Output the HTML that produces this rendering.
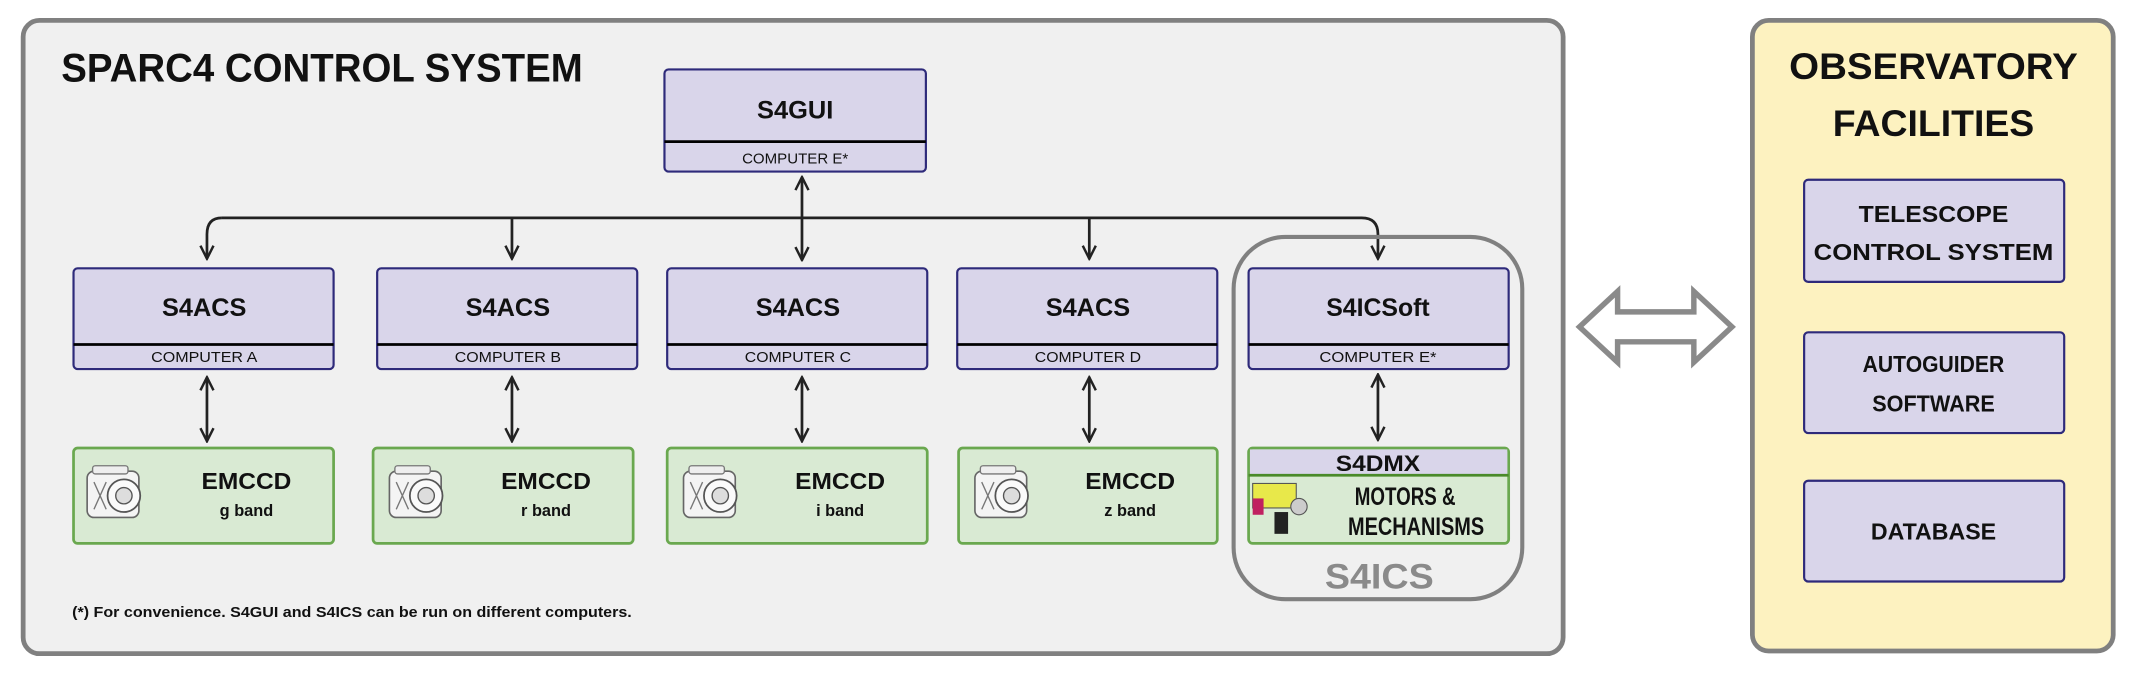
<!DOCTYPE html>
<html><head><meta charset="utf-8"><style>
html,body{margin:0;padding:0;background:#fff}
svg{display:block}
text{font-family:"Liberation Sans",sans-serif;font-weight:bold;fill:#111}
</style></head><body>
<svg width="2135" height="685" viewBox="0 0 1568 503" preserveAspectRatio="none">
<defs>
<marker id="ah" viewBox="0 0 10 10" refX="9" refY="5" markerWidth="12" markerHeight="12" orient="auto-start-reverse" markerUnits="userSpaceOnUse">
<path d="M1,1 L9,5 L1,9" fill="none" stroke="#222" stroke-width="1.5"/>
</marker>
<g id="cam">
<rect x="0" y="0" width="38" height="34" rx="5" fill="#f4f4f4" stroke="#666" stroke-width="1.2"/>
<rect x="4" y="-4" width="26" height="6" rx="2" fill="#eee" stroke="#777" stroke-width="1"/>
<circle cx="27" cy="18" r="12" fill="#fafafa" stroke="#555" stroke-width="1.3"/>
<circle cx="27" cy="18" r="6" fill="#ddd" stroke="#555" stroke-width="1"/>
<path d="M5,8 L14,28 M14,8 L5,28" stroke="#777" stroke-width="1"/>
</g>
</defs>

<rect x="17" y="15" width="1131" height="465" rx="12" fill="#f0f0f0" stroke="#808080" stroke-width="3.5"/>
<text x="45" y="60" font-size="29" textLength="383" lengthAdjust="spacingAndGlyphs">SPARC4 CONTROL SYSTEM</text>

<rect x="488" y="51" width="192" height="75" rx="3" fill="#d9d5ea" stroke="#2e2a7a" stroke-width="1.6"/>
<line x1="488" y1="104" x2="680" y2="104" stroke="#000" stroke-width="2"/>
<text x="584" y="87" font-size="18" text-anchor="middle" textLength="56" lengthAdjust="spacingAndGlyphs">S4GUI</text>
<text x="584" y="120" font-size="10.5" text-anchor="middle" fill="#222" textLength="78" lengthAdjust="spacingAndGlyphs" style="font-weight:normal">COMPUTER  E*</text>

<path d="M163,160 L1000,160 Q1012,160 1012,172 L1012,190" fill="none" stroke="#222" stroke-width="2" marker-end="url(#ah)"/>
<path d="M163,160 Q152,160 152,172 L152,190" fill="none" stroke="#222" stroke-width="2" marker-end="url(#ah)"/>
<line x1="376" y1="160" x2="376" y2="190" stroke="#222" stroke-width="2" marker-end="url(#ah)"/>
<line x1="800" y1="160" x2="800" y2="190" stroke="#222" stroke-width="2" marker-end="url(#ah)"/>
<line x1="589" y1="130" x2="589" y2="191" stroke="#222" stroke-width="2" marker-start="url(#ah)" marker-end="url(#ah)"/>

<rect x="906" y="174" width="212" height="266" rx="38" fill="none" stroke="#808080" stroke-width="3"/>
<text x="1013" y="432" font-size="26" text-anchor="middle" style="fill:#8a8a8a" textLength="80" lengthAdjust="spacingAndGlyphs">S4ICS</text>

<g>
<rect x="54" y="197" width="191" height="74" rx="3" fill="#d9d5ea" stroke="#2e2a7a" stroke-width="1.6"/>
<line x1="54" y1="253" x2="245" y2="253" stroke="#000" stroke-width="2"/>
<text x="150" y="232" font-size="18" text-anchor="middle" textLength="62" lengthAdjust="spacingAndGlyphs">S4ACS</text>
<text x="150" y="266" font-size="10.5" text-anchor="middle" textLength="78" lengthAdjust="spacingAndGlyphs" style="font-weight:normal">COMPUTER  A</text>

<rect x="277" y="197" width="191" height="74" rx="3" fill="#d9d5ea" stroke="#2e2a7a" stroke-width="1.6"/>
<line x1="277" y1="253" x2="468" y2="253" stroke="#000" stroke-width="2"/>
<text x="373" y="232" font-size="18" text-anchor="middle" textLength="62" lengthAdjust="spacingAndGlyphs">S4ACS</text>
<text x="373" y="266" font-size="10.5" text-anchor="middle" textLength="78" lengthAdjust="spacingAndGlyphs" style="font-weight:normal">COMPUTER  B</text>

<rect x="490" y="197" width="191" height="74" rx="3" fill="#d9d5ea" stroke="#2e2a7a" stroke-width="1.6"/>
<line x1="490" y1="253" x2="681" y2="253" stroke="#000" stroke-width="2"/>
<text x="586" y="232" font-size="18" text-anchor="middle" textLength="62" lengthAdjust="spacingAndGlyphs">S4ACS</text>
<text x="586" y="266" font-size="10.5" text-anchor="middle" textLength="78" lengthAdjust="spacingAndGlyphs" style="font-weight:normal">COMPUTER  C</text>

<rect x="703" y="197" width="191" height="74" rx="3" fill="#d9d5ea" stroke="#2e2a7a" stroke-width="1.6"/>
<line x1="703" y1="253" x2="894" y2="253" stroke="#000" stroke-width="2"/>
<text x="799" y="232" font-size="18" text-anchor="middle" textLength="62" lengthAdjust="spacingAndGlyphs">S4ACS</text>
<text x="799" y="266" font-size="10.5" text-anchor="middle" textLength="78" lengthAdjust="spacingAndGlyphs" style="font-weight:normal">COMPUTER  D</text>

<rect x="917" y="197" width="191" height="74" rx="3" fill="#d9d5ea" stroke="#2e2a7a" stroke-width="1.6"/>
<line x1="917" y1="253" x2="1108" y2="253" stroke="#000" stroke-width="2"/>
<text x="1012" y="232" font-size="18" text-anchor="middle" textLength="76" lengthAdjust="spacingAndGlyphs">S4ICSoft</text>
<text x="1012" y="266" font-size="10.5" text-anchor="middle" textLength="86" lengthAdjust="spacingAndGlyphs" style="font-weight:normal">COMPUTER  E*</text>
</g>

<g stroke="#222" stroke-width="2">
<line x1="152" y1="277" x2="152" y2="324" marker-start="url(#ah)" marker-end="url(#ah)"/>
<line x1="376" y1="277" x2="376" y2="324" marker-start="url(#ah)" marker-end="url(#ah)"/>
<line x1="589" y1="277" x2="589" y2="324" marker-start="url(#ah)" marker-end="url(#ah)"/>
<line x1="800" y1="277" x2="800" y2="324" marker-start="url(#ah)" marker-end="url(#ah)"/>
<line x1="1012" y1="275" x2="1012" y2="323" marker-start="url(#ah)" marker-end="url(#ah)"/>
</g>

<g>
<rect x="54" y="329" width="191" height="70" rx="3" fill="#d9ead3" stroke="#6aa84f" stroke-width="2"/>
<use href="#cam" x="64" y="346"/>
<text x="181" y="359" font-size="17" text-anchor="middle" textLength="66" lengthAdjust="spacingAndGlyphs">EMCCD</text>
<text x="181" y="379" font-size="12" text-anchor="middle">g band</text>

<rect x="274" y="329" width="191" height="70" rx="3" fill="#d9ead3" stroke="#6aa84f" stroke-width="2"/>
<use href="#cam" x="286" y="346"/>
<text x="401" y="359" font-size="17" text-anchor="middle" textLength="66" lengthAdjust="spacingAndGlyphs">EMCCD</text>
<text x="401" y="379" font-size="12" text-anchor="middle">r band</text>

<rect x="490" y="329" width="191" height="70" rx="3" fill="#d9ead3" stroke="#6aa84f" stroke-width="2"/>
<use href="#cam" x="502" y="346"/>
<text x="617" y="359" font-size="17" text-anchor="middle" textLength="66" lengthAdjust="spacingAndGlyphs">EMCCD</text>
<text x="617" y="379" font-size="12" text-anchor="middle">i band</text>

<rect x="704" y="329" width="190" height="70" rx="3" fill="#d9ead3" stroke="#6aa84f" stroke-width="2"/>
<use href="#cam" x="716" y="346"/>
<text x="830" y="359" font-size="17" text-anchor="middle" textLength="66" lengthAdjust="spacingAndGlyphs">EMCCD</text>
<text x="830" y="379" font-size="12" text-anchor="middle">z band</text>
</g>

<rect x="917" y="329" width="191" height="70" rx="3" fill="#d9ead3" stroke="#6aa84f" stroke-width="2"/>
<rect x="918" y="330" width="189" height="19" fill="#d9d5ea"/>
<line x1="917" y1="349" x2="1108" y2="349" stroke="#4a8a2a" stroke-width="2"/>
<text x="1012" y="346" font-size="16" text-anchor="middle" textLength="62" lengthAdjust="spacingAndGlyphs">S4DMX</text>
<text x="1032" y="371" font-size="18" text-anchor="middle" textLength="74" lengthAdjust="spacingAndGlyphs">MOTORS &amp;</text>
<text x="1040" y="393" font-size="18" text-anchor="middle" textLength="100" lengthAdjust="spacingAndGlyphs">MECHANISMS</text>
<g>
<rect x="920" y="355" width="32" height="18" fill="#e8e84a" stroke="#555" stroke-width="0.8"/>
<rect x="920" y="366" width="8" height="12" fill="#c02060"/>
<circle cx="954" cy="372" r="6" fill="#ccc" stroke="#555" stroke-width="0.8"/>
<rect x="936" y="376" width="10" height="16" fill="#222"/>
</g>

<text x="53" y="453" font-size="11" fill="#222" textLength="411" lengthAdjust="spacingAndGlyphs">(*) For convenience. S4GUI and S4ICS can be run on different computers.</text>

<path d="M1160,240 L1188,214 L1188,229 L1244,229 L1244,214 L1272,240 L1244,266 L1244,251 L1188,251 L1188,266 Z" fill="#fff" stroke="#8a8a8a" stroke-width="4" stroke-linejoin="miter"/>

<rect x="1287" y="15" width="265" height="463" rx="12" fill="#fdf2c0" stroke="#808080" stroke-width="3.5"/>
<text x="1420" y="58" font-size="27" text-anchor="middle" textLength="212" lengthAdjust="spacingAndGlyphs">OBSERVATORY</text>
<text x="1420" y="100" font-size="27" text-anchor="middle" textLength="148" lengthAdjust="spacingAndGlyphs">FACILITIES</text>

<rect x="1325" y="132" width="191" height="75" rx="3" fill="#d9d5ea" stroke="#2e2a7a" stroke-width="1.6"/>
<text x="1420" y="163" font-size="17" text-anchor="middle" textLength="110" lengthAdjust="spacingAndGlyphs">TELESCOPE</text>
<text x="1420" y="191" font-size="17" text-anchor="middle" textLength="176" lengthAdjust="spacingAndGlyphs">CONTROL SYSTEM</text>

<rect x="1325" y="244" width="191" height="74" rx="3" fill="#d9d5ea" stroke="#2e2a7a" stroke-width="1.6"/>
<text x="1420" y="273" font-size="17" text-anchor="middle" textLength="104" lengthAdjust="spacingAndGlyphs">AUTOGUIDER</text>
<text x="1420" y="302" font-size="17" text-anchor="middle" textLength="90" lengthAdjust="spacingAndGlyphs">SOFTWARE</text>

<rect x="1325" y="353" width="191" height="74" rx="3" fill="#d9d5ea" stroke="#2e2a7a" stroke-width="1.6"/>
<text x="1420" y="396" font-size="17" text-anchor="middle" textLength="92" lengthAdjust="spacingAndGlyphs">DATABASE</text>
</svg>
</body></html>
